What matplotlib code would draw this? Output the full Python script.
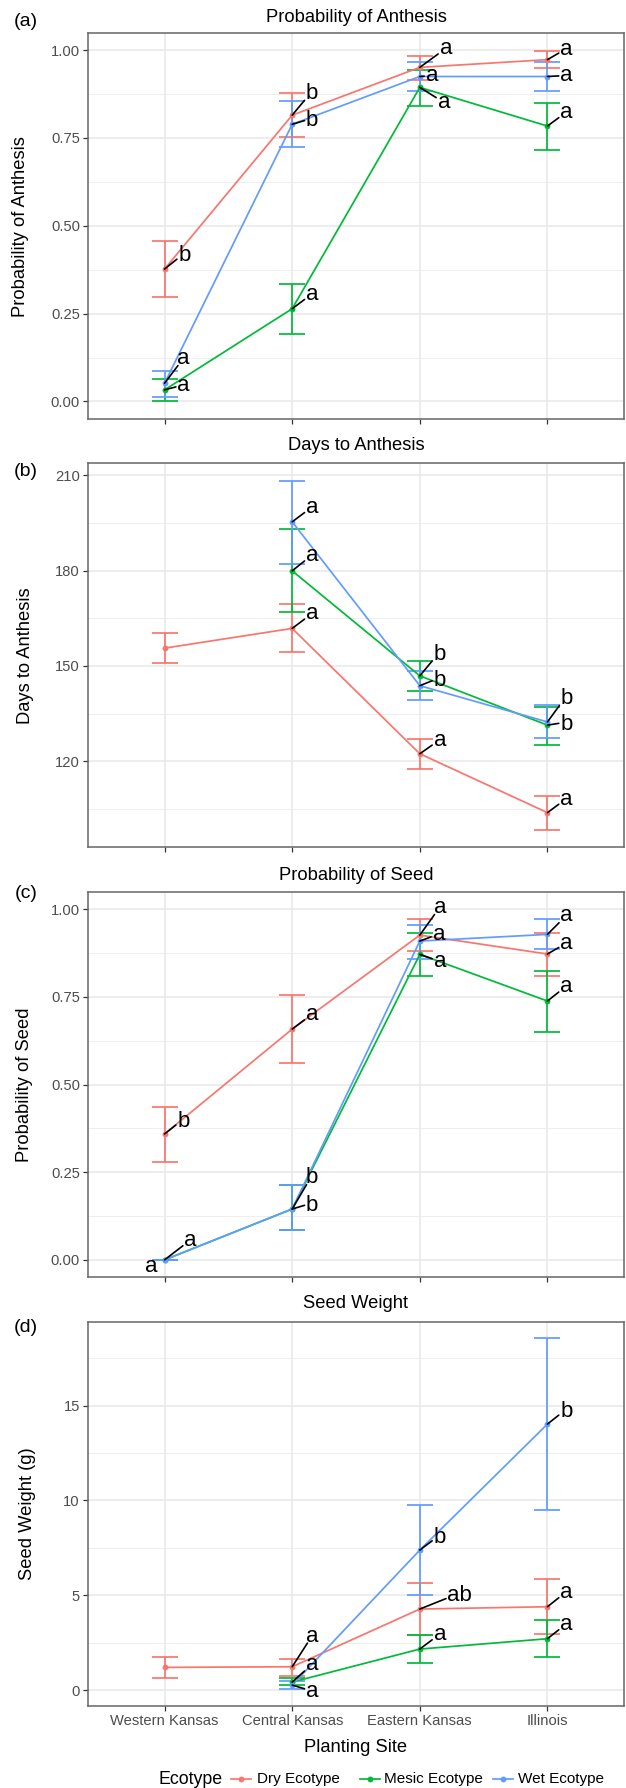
import numpy as np
import matplotlib
matplotlib.use("Agg")
import matplotlib.pyplot as plt
from matplotlib.lines import Line2D
from matplotlib.ticker import FixedLocator

plt.rcParams['font.family'] = ['Liberation Sans', 'DejaVu Sans']

# ---------------------------------------------------------------- data
sites = ["Western Kansas", "Central Kansas", "Eastern Kansas", "Illinois"]
ecotypes = ["Dry Ecotype", "Mesic Ecotype", "Wet Ecotype"]
nan = np.nan

# (a) probability of anthesis: rows = Dry, Mesic, Wet
anth_prob_mean = [[0.377, 0.815, 0.951, 0.973],
                  [0.033, 0.264, 0.894, 0.784],
                  [0.052, 0.789, 0.925, 0.925]]
anth_prob_lo = [[0.298, 0.753, 0.916, 0.948],
                [0.000, 0.192, 0.841, 0.716],
                [0.014, 0.723, 0.884, 0.884]]
anth_prob_hi = [[0.458, 0.877, 0.984, 0.998],
                [0.065, 0.335, 0.943, 0.851],
                [0.088, 0.856, 0.967, 0.967]]
anth_prob_letters = [["b", "b", "a", "a"],
                     ["a", "a", "a", "a"],
                     ["a", "b", "a", "a"]]

# (b) days to anthesis
anth_days_mean = [[155.6, 161.8, 122.4, 103.9],
                  [nan, 179.9, 146.9, 131.4],
                  [nan, 195.3, 143.8, 132.4]]
anth_days_lo = [[150.8, 154.5, 117.7, 98.5],
                [nan, 167.0, 142.1, 125.3],
                [nan, 182.1, 139.2, 127.2]]
anth_days_hi = [[160.5, 169.4, 126.9, 109.1],
                [nan, 192.9, 151.6, 137.0],
                [nan, 208.2, 148.5, 137.6]]
anth_days_letters = [["", "a", "a", "a"],
                     ["", "a", "b", "b"],
                     ["", "a", "b", "b"]]

# (c) probability of seed
seed_prob_mean = [[0.359, 0.658, 0.926, 0.872],
                  [0.000, 0.145, 0.871, 0.738],
                  [0.000, 0.145, 0.909, 0.928]]
seed_prob_lo = [[0.278, 0.562, 0.881, 0.809],
                [0.000, 0.084, 0.809, 0.650],
                [0.000, 0.084, 0.857, 0.885]]
seed_prob_hi = [[0.437, 0.754, 0.971, 0.932],
                [0.000, 0.214, 0.933, 0.824],
                [0.000, 0.214, 0.956, 0.971]]
seed_prob_letters = [["b", "a", "a", "a"],
                     ["a", "b", "a", "a"],
                     ["a", "b", "a", "a"]]

# (d) seed weight (g)
seed_wt_mean = [[1.196, 1.231, 4.273, 4.396],
                [nan, 0.420, 2.163, 2.708],
                [nan, 0.264, 7.385, 14.03]]
seed_wt_lo = [[0.633, 0.756, 2.880, 2.937],
              [nan, 0.250, 1.442, 1.758],
              [nan, 0.070, 5.011, 9.500]]
seed_wt_hi = [[1.758, 1.653, 5.662, 5.856],
              [nan, 0.620, 2.884, 3.675],
              [nan, 0.475, 9.759, 18.55]]
seed_wt_letters = [["", "a", "ab", "a"],
                   ["", "a", "a", "a"],
                   ["", "a", "b", "b"]]

# ---------------------------------------------------------------- style
colors = ["#F8766D", "#00BA38", "#619CFF"]
W, H = 626, 1788
DPI = 100
PX = 72.0 / DPI          # points per pixel

# label nudges in pixels (dx right, dy up)
anth_prob_nudge = [[(20, 16), (20, 24), (26, 19), (19, 11)],
                   [(19, 5), (20, 15), (24, -15), (19, 14)],
                   [(19, 25), (20, 6), (12, 1), (19, 1)]]
anth_days_nudge = [[None, (20, 15), (20, 14), (19, 14)],
                   [None, (20, 16), (20, 24), (19, 3)],
                   [None, (20, 15), (20, 8), (19, 26)]]
seed_prob_nudge = [[(19, 15), (20, 15), (20, 28), (19, 11)],
                   [(-13, -6), (20, 34), (20, -7), (19, 15)],
                   [(26, 20), (20, 6), (19, 7), (19, 19)]]
seed_wt_nudge = [[None, (20, 31), (40, 16), (19, 15)],
                 [None, (20, 18), (20, 15), (19, 15)],
                 [None, (20, -6), (20, 15), (19, 15)]]
no_segment = {(2, 1, 0)}   # (panel, series, site)

FS_TICK = 10.6
FS_TITLE = 13.2
FS_LEG = 11.0
FS_LEGTITLE = 12.8
FS_LET = 16.0
EM_LET = FS_LET / PX     # letter em size in pixels
LW = 1.25
MS = 4.2

fig = plt.figure(figsize=(W / DPI, H / DPI), dpi=DPI)

# panel boxes in pixels: (top, bottom)
left_px, right_px = 88, 624
boxes = [(33.3, 419.0), (463.3, 847.3), (892.3, 1276.7), (1321.7, 1706.0)]
titles = ["Probability of Anthesis", "Days to Anthesis",
          "Probability of Seed", "Seed Weight"]
title_y = [17, 445, 875, 1304]
tags = ["(a)", "(b)", "(c)", "(d)"]
tag_y = [22, 472, 893, 1327]
ylabels = ["Probability of Anthesis", "Days to Anthesis",
           "Probability of Seed", "Seed Weight (g)"]
ylabel_x = [21, 26, 25, 28]
ylims = [(-0.0499, 1.048), (93.0, 213.7), (-0.048, 1.048), (-0.84, 19.43)]
yticks = [[0, 0.25, 0.5, 0.75, 1.0], [120, 150, 180, 210],
          [0, 0.25, 0.5, 0.75, 1.0], [0, 5, 10, 15]]
yticklabels = [["0.00", "0.25", "0.50", "0.75", "1.00"],
               ["120", "150", "180", "210"],
               ["0.00", "0.25", "0.50", "0.75", "1.00"],
               ["0", "5", "10", "15"]]
yminor = [[0.125, 0.375, 0.625, 0.875], [105, 135, 165, 195],
          [0.125, 0.375, 0.625, 0.875], [2.5, 7.5, 12.5, 17.5]]

panels = [
    (anth_prob_mean, anth_prob_lo, anth_prob_hi, anth_prob_letters, anth_prob_nudge),
    (anth_days_mean, anth_days_lo, anth_days_hi, anth_days_letters, anth_days_nudge),
    (seed_prob_mean, seed_prob_lo, seed_prob_hi, seed_prob_letters, seed_prob_nudge),
    (seed_wt_mean, seed_wt_lo, seed_wt_hi, seed_wt_letters, seed_wt_nudge),
]


def fx(x):
    return x / W


def fy(y):
    return 1 - y / H


def letter_label(ax, x, y, letter, dx, dy, segment=True):
    gh = 0.53 if letter == "a" else 0.73
    gw = 0.556 * len(letter)
    base = dy - gh * EM_LET / 2
    ax.annotate(letter, (x, y), xytext=(dx * PX, base * PX),
                textcoords="offset points", ha="center", va="baseline",
                fontsize=FS_LET, color="black", zorder=8,
                annotation_clip=False)
    if not segment:
        return
    hw = gw * EM_LET / 2 + 1.5
    hh = gh * EM_LET / 2 + 1.5
    s = max(abs(dx) / hw, abs(dy) / hh)
    if s > 1.05:
        f = 1 - 1 / s
        ax.annotate("", (x, y), xytext=(dx * f * PX, dy * f * PX),
                    textcoords="offset points",
                    arrowprops=dict(arrowstyle="-", color="black", lw=1.2,
                                    shrinkA=0, shrinkB=0),
                    zorder=7, annotation_clip=False)


xpos = np.arange(len(sites))

for p, (mean, lo, hi, letters, nudge) in enumerate(panels):
    top, bot = boxes[p]
    ax = fig.add_axes([fx(left_px), fy(bot), fx(right_px - left_px), (bot - top) / H])
    ax.set_xlim(-0.6, 3.6)
    ax.set_ylim(*ylims[p])
    ax.set_facecolor("white")

    # grid
    ax.set_xticks(xpos)
    ax.set_yticks(yticks[p])
    ax.set_yticklabels(yticklabels[p])
    ax.yaxis.set_minor_locator(FixedLocator(yminor[p]))
    ax.grid(True, which="major", color="#E8E8E8", lw=1.1, zorder=0)
    ax.grid(True, which="minor", axis="y", color="#EBEBEB", lw=0.6, zorder=0)
    ax.set_axisbelow(True)

    for s in ax.spines.values():
        s.set_color("#666666")
        s.set_linewidth(1.1)

    ax.tick_params(axis="both", which="major", length=3.3, width=0.9,
                   color="#333333", labelsize=FS_TICK, labelcolor="#4D4D4D",
                   pad=2.5)
    ax.tick_params(axis="y", which="minor", length=0)
    if p < 3:
        ax.tick_params(axis="x", labelbottom=False)
    else:
        ax.set_xticklabels(sites)

    for i in range(3):
        m = np.array(mean[i], dtype=float)
        l = np.array(lo[i], dtype=float)
        h = np.array(hi[i], dtype=float)
        ok = ~np.isnan(m)
        ax.errorbar(xpos[ok], m[ok], yerr=[m[ok] - l[ok], h[ok] - m[ok]],
                    fmt="none", ecolor=colors[i], elinewidth=LW,
                    capsize=12.8 * PX, capthick=LW, zorder=3)
        ax.plot(xpos, m, color=colors[i], lw=LW, zorder=4)
        ax.plot(xpos[ok], m[ok], "o", color=colors[i], ms=MS, mec="none",
                zorder=5)

    for i in range(3):
        for j in range(len(sites)):
            let = letters[i][j]
            if not let:
                continue
            dx, dy = nudge[i][j]
            letter_label(ax, xpos[j], mean[i][j], let, dx, dy,
                         segment=(p, i, j) not in no_segment)

    cx = fx((left_px + right_px) / 2)
    fig.text(cx, fy(title_y[p]), titles[p], ha="center", va="center",
             fontsize=FS_TITLE, color="black")
    fig.text(fx(26), fy(tag_y[p]), tags[p], ha="center", va="center",
             fontsize=14, color="black")
    fig.text(fx(ylabel_x[p]), fy((top + bot) / 2), ylabels[p], rotation=90,
             ha="center", va="center", fontsize=FS_TITLE, color="black")

# x axis title
fig.text(fx((left_px + right_px) / 2), fy(1748), "Planting Site",
         ha="center", va="center", fontsize=FS_TITLE, color="black")

# legend along the bottom
leg_y = fy(1779)
fig.text(fx(158), leg_y, "Ecotype", ha="left", va="center",
         fontsize=FS_LEGTITLE, color="black")
key_x = [231, 360, 493]
text_x = [257, 384, 518]
for i in range(3):
    fig.add_artist(Line2D([fx(key_x[i]), fx(key_x[i] + 20)], [leg_y, leg_y],
                          transform=fig.transFigure, color=colors[i], lw=LW))
    fig.add_artist(Line2D([fx(key_x[i] + 10)], [leg_y], marker="o", ms=MS,
                          mec="none", transform=fig.transFigure,
                          color=colors[i]))
    fig.text(fx(text_x[i]), leg_y, ecotypes[i], ha="left", va="center",
             fontsize=FS_LEG, color="black")

fig.savefig("out.png", dpi=DPI, facecolor="white")
